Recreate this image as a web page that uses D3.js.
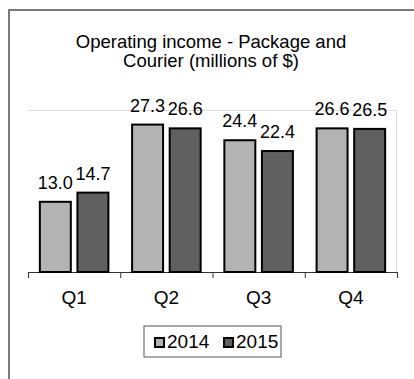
<!DOCTYPE html>
<html>
<head>
<meta charset="utf-8">
<script src="https://cdn.jsdelivr.net/npm/d3@7"></script>
<style>
  body { margin: 0; background: #fff; }
  text { font-family: "Liberation Sans", Arial, sans-serif; fill: #000; }
</style>
</head>
<body>
<script>
// data
var quarters = ['Q1', 'Q2', 'Q3', 'Q4'];
var years = ['2014', '2015'];
var values2014 = [13.0, 27.3, 24.4, 26.6];
var values2015 = [14.7, 26.6, 22.4, 26.5];
var titleLines = ['Operating income - Package and', 'Courier (millions of $)'];
var barColors = ['#b3b3b3', '#606060'];

var W = 414, H = 379;
var margin = {top: 110, right: 17, bottom: 107, left: 28};
var width = W - margin.left - margin.right,
    height = H - margin.top - margin.bottom;

var rows = quarters.map(function(q, i) {
  return {q: q, vals: [values2014[i], values2015[i]]};
});

var svg = d3.select("body").append("svg")
  .attr("width", W)
  .attr("height", H);

// outer frame (runs off the right and bottom edge)
svg.append("rect")
  .attr("x", 9).attr("y", 10)
  .attr("width", 430).attr("height", 400)
  .attr("fill", "none")
  .attr("stroke", "#7a7a7a")
  .attr("stroke-width", 2);

// title
svg.append("text")
  .attr("x", 211)
  .attr("y", 48)
  .attr("text-anchor", "middle")
  .style("font-size", "18.5px")
  .selectAll("tspan")
  .data(titleLines)
  .enter()
  .append("tspan")
    .attr("x", 211)
    .attr("dy", function(d, i) { return i == 0 ? 0 : 19; })
    .text(function(d) { return d; });

var g = svg.append("g")
  .attr("transform", "translate(" + margin.left + "," + margin.top + ")");

// plot area border: only top and right show in the picture
g.append("path")
  .attr("d", "M0,0.5H" + (width - 0.5) + "V" + height)
  .attr("fill", "none")
  .attr("stroke", "#dcdcdc")
  .attr("stroke-width", 1);

var x0 = d3.scaleBand()
  .domain(quarters)
  .range([0, width])
  .paddingInner(0.257)
  .paddingOuter(0.1285);

var x1 = d3.scaleBand()
  .domain(years)
  .range([0, x0.bandwidth()])
  .paddingInner(0.176)
  .paddingOuter(0);

var y = d3.scaleLinear()
  .domain([0, 30])
  .range([height, 0]);

// x axis with ticks between categories
var xAxisScale = d3.scaleLinear().domain([0, quarters.length]).range([0, width]);
var xAxis = g.append("g")
  .attr("transform", "translate(0," + height + ")")
  .call(d3.axisBottom(xAxisScale).ticks(4).tickSize(6).tickSizeOuter(6).tickFormat(""));
xAxis.select(".domain").attr("stroke", "#333");
xAxis.selectAll(".tick line").attr("stroke", "#333");

g.selectAll(".qlabel")
  .data(quarters)
  .enter()
  .append("text")
  .attr("class", "qlabel")
  .attr("x", function(d) { return x0(d) + x0.bandwidth() / 2; })
  .attr("y", height + 32)
  .attr("text-anchor", "middle")
  .style("font-size", "19px")
  .text(function(d) { return d; });

var groups = g.selectAll(".grp")
  .data(rows)
  .enter()
  .append("g")
  .attr("class", "grp")
  .attr("transform", function(d) { return "translate(" + x0(d.q) + ",0)"; });

groups.selectAll("rect")
  .data(function(d) { return d.vals.map(function(v, i) { return {yr: years[i], v: v, i: i}; }); })
  .enter()
  .append("rect")
  .attr("x", function(d) { return x1(d.yr); })
  .attr("y", function(d) { return y(d.v); })
  .attr("width", x1.bandwidth())
  .attr("height", function(d) { return height - y(d.v); })
  .attr("fill", function(d) { return barColors[d.i]; })
  .attr("stroke", "#000")
  .attr("stroke-width", 2);

groups.selectAll(".vlabel")
  .data(function(d) { return d.vals.map(function(v, i) { return {yr: years[i], v: v, i: i}; }); })
  .enter()
  .append("text")
  .attr("class", "vlabel")
  .attr("x", function(d) { return x1(d.yr) + x1.bandwidth() / 2; })
  .attr("y", function(d) { return y(d.v) - 13; })
  .attr("text-anchor", "middle")
  .style("font-size", "18px")
  .text(function(d) { return d.v.toFixed(1); });

// legend
var legend = svg.append("g").attr("transform", "translate(144,326)");
legend.append("rect")
  .attr("width", 137).attr("height", 31)
  .attr("fill", "#fff")
  .attr("stroke", "#555")
  .attr("stroke-width", 1);

var items = legend.selectAll(".item")
  .data(years)
  .enter()
  .append("g")
  .attr("class", "item")
  .attr("transform", function(d, i) { return "translate(" + (11 + i * 69) + ",0)"; });

items.append("rect")
  .attr("x", 0).attr("y", 12)
  .attr("width", 9).attr("height", 9)
  .attr("fill", function(d, i) { return barColors[i]; })
  .attr("stroke", "#000")
  .attr("stroke-width", 2);

items.append("text")
  .attr("x", 12)
  .attr("y", 22)
  .style("font-size", "19px")
  .text(function(d) { return d; });
</script>
</body>
</html>
